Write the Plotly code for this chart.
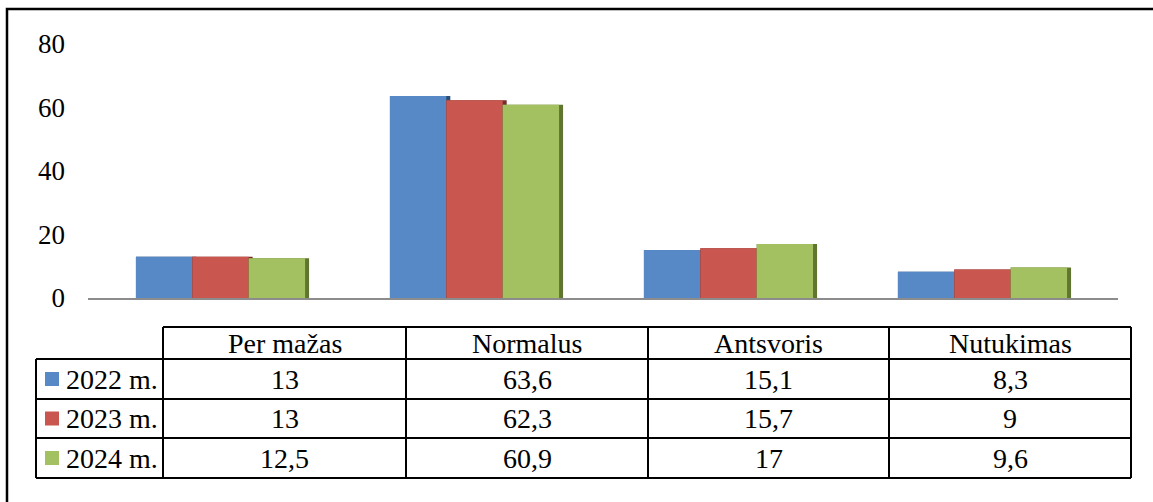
import plotly.graph_objects as go

categories = ["Per mažas", "Normalus", "Antsvoris", "Nutukimas"]
series_names = ["2022 m.", "2023 m.", "2024 m."]
values_2022 = [13, 63.6, 15.1, 8.3]
values_2023 = [13, 62.3, 15.7, 9]
values_2024 = [12.5, 60.9, 17, 9.6]
y_ticks = [0, 20, 40, 60, 80]

series = [values_2022, values_2023, values_2024]
colors = ["#5689c6", "#c9574f", "#a3c160"]
shadows = ["#2c4d75", "#772c2a", "#5f7530"]

W, H = 1153, 502
FONT = "'Liberation Serif', 'Times New Roman', Tinos, 'DejaVu Serif', serif"
TS = 28

def px(x):
    return x / W

def py(y):
    return 1 - y / H

fig = go.Figure()
xs = list(range(len(categories)))
bw = 0.222
sw = 0.0157
for i, (vals, c, sc) in enumerate(zip(series, colors, shadows)):
    off = -1.5 * bw + i * bw
    fig.add_trace(go.Bar(x=xs, y=vals, width=bw + sw, offset=off,
                         marker=dict(color=sc, line=dict(width=0)),
                         showlegend=False, hoverinfo="skip"))
    fig.add_trace(go.Bar(x=xs, y=vals, width=bw, offset=off, name=series_names[i],
                         marker=dict(color=c, line=dict(width=0)),
                         showlegend=False))

fig.update_layout(
    template="none",
    width=W, height=H,
    margin=dict(l=0, r=0, t=0, b=0, pad=0),
    paper_bgcolor="white", plot_bgcolor="white",
    barmode="overlay",
    showlegend=False,
    font=dict(family=FONT, size=27, color="black"),
    xaxis=dict(domain=[px(88), px(1118)], range=[-0.5217, 3.5335], automargin=False,
               showticklabels=False, ticks="", showgrid=False, zeroline=False,
               showline=True, linecolor="#8c8c8c", linewidth=2,
               anchor="y", fixedrange=True),
    yaxis=dict(domain=[py(298), py(44)], range=[0, 80], tickvals=y_ticks, automargin=False,
               showgrid=False, zeroline=False, showline=False, ticks="",
               ticklabelstandoff=22,
               tickfont=dict(family=FONT, size=27, color="black")),
)

shapes = []
lw = 2
def hline(x0, x1, y):
    shapes.append(dict(type="line", xref="paper", yref="paper",
                       x0=px(x0), x1=px(x1), y0=py(y), y1=py(y),
                       line=dict(color="black", width=lw)))
def vline(x, y0, y1):
    shapes.append(dict(type="line", xref="paper", yref="paper",
                       x0=px(x), x1=px(x), y0=py(y0), y1=py(y1),
                       line=dict(color="black", width=lw)))

# outer border
shapes.append(dict(type="rect", xref="paper", yref="paper",
                   x0=px(7), x1=px(1165), y0=py(9), y1=py(515),
                   line=dict(color="black", width=2.5)))

col_x = [163, 406, 648, 889, 1131]
row_y = [327, 359, 399, 438, 478]
hline(163, 1131, row_y[0])
for y in row_y[1:]:
    hline(36, 1131, y)
vline(36, row_y[1], row_y[-1])
for x in col_x:
    vline(x, row_y[0], row_y[-1])

annotations = []
for j, cat in enumerate(categories):
    cx = (col_x[j] + col_x[j + 1]) / 2
    annotations.append(dict(x=px(cx), y=py((row_y[0] + row_y[1]) / 2), xref="paper", yref="paper",
                            text=cat, showarrow=False, xanchor="center", yanchor="middle",
                            font=dict(family=FONT, size=TS, color="black")))
for i, vals in enumerate(series):
    cy = (row_y[i + 1] + row_y[i + 2]) / 2
    shapes.append(dict(type="rect", xref="paper", yref="paper",
                       x0=px(45), x1=px(59), y0=py(cy - 7), y1=py(cy + 7),
                       fillcolor=colors[i], line=dict(width=0)))
    annotations.append(dict(x=px(64), y=py(cy), xref="paper", yref="paper",
                            text=series_names[i], showarrow=False, xanchor="left", yanchor="middle",
                            font=dict(family=FONT, size=TS, color="black")))
    for j, v in enumerate(vals):
        cx = (col_x[j] + col_x[j + 1]) / 2
        label = (f"{v:g}").replace(".", ",")
        annotations.append(dict(x=px(cx), y=py(cy), xref="paper", yref="paper",
                                text=label, showarrow=False, xanchor="center", yanchor="middle",
                                font=dict(family=FONT, size=TS, color="black")))

fig.update_layout(shapes=shapes, annotations=annotations)
fig.write_html("out.html", config={"displayModeBar": False},
               post_script="document.body.style.margin='0';document.body.style.overflow='hidden';")
